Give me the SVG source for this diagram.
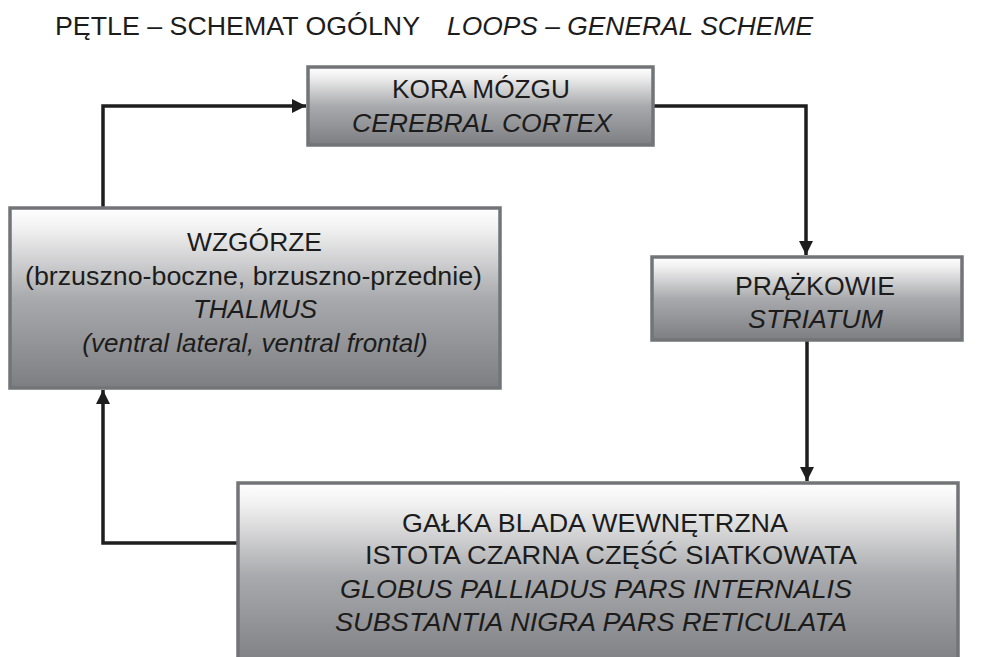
<svg xmlns="http://www.w3.org/2000/svg" width="988" height="657" viewBox="0 0 988 657">
<defs>
<linearGradient id="g" x1="0" y1="0" x2="0" y2="1">
<stop offset="0" stop-color="#ffffff"/>
<stop offset="0.12" stop-color="#f0f0f0"/>
<stop offset="0.5" stop-color="#a9aaad"/>
<stop offset="1" stop-color="#7d7e82"/>
</linearGradient>
<marker id="ah" viewBox="0 0 10 10" refX="10" refY="5" markerWidth="4" markerHeight="4" orient="auto" markerUnits="strokeWidth">
<path d="M0,0 L10,5 L0,10 Z" fill="#1e1e1e"/>
</marker>
<style>
.box{fill:url(#g);stroke:#737477;stroke-width:3.5}
text{font-family:"Liberation Sans",Arial,sans-serif;font-size:26px;fill:#1c1c1c}
.i{font-style:italic}
.conn{fill:none;stroke:#1e1e1e;stroke-width:3.5;marker-end:url(#ah)}
</style>
</defs>
<rect width="988" height="657" fill="#ffffff"/>
<g id="title">
<text x="55" y="35" textLength="365" lengthAdjust="spacingAndGlyphs">PĘTLE – SCHEMAT OGÓLNY</text>
<text x="447" y="35" class="i" textLength="366" lengthAdjust="spacingAndGlyphs">LOOPS – GENERAL SCHEME</text>
</g>
<g id="connectors">
<path class="conn" d="M103,208 V106 H306"/>
<path class="conn" d="M653,106 H806 V255"/>
<path class="conn" d="M807,340 V481"/>
<path class="conn" d="M238,543 H103 V390"/>
</g>
<g id="cortex">
<rect class="box" x="308" y="67" width="345" height="78"/>
<text x="392" y="98" textLength="178" lengthAdjust="spacingAndGlyphs">KORA MÓZGU</text>
<text x="352" y="132" class="i" textLength="260" lengthAdjust="spacingAndGlyphs">CEREBRAL CORTEX</text>
</g>
<g id="thalamus">
<rect class="box" x="10" y="208" width="490" height="180"/>
<text x="187" y="251" textLength="135" lengthAdjust="spacingAndGlyphs">WZGÓRZE</text>
<text x="25" y="285" textLength="457" lengthAdjust="spacingAndGlyphs">(brzuszno-boczne, brzuszno-przednie)</text>
<text x="255" y="318" class="i" text-anchor="middle">THALMUS</text>
<text x="255" y="352" class="i" text-anchor="middle">(ventral lateral, ventral frontal)</text>
</g>
<g id="striatum">
<rect class="box" x="652" y="257" width="310" height="83"/>
<text x="735" y="295" textLength="160" lengthAdjust="spacingAndGlyphs">PRĄŻKOWIE</text>
<text x="748" y="328" class="i" textLength="135" lengthAdjust="spacingAndGlyphs">STRIATUM</text>
</g>
<g id="gpi-snr">
<rect class="box" x="238" y="483" width="720" height="185"/>
<text x="402" y="532" textLength="386" lengthAdjust="spacingAndGlyphs">GAŁKA BLADA WEWNĘTRZNA</text>
<text x="365" y="564" textLength="492" lengthAdjust="spacingAndGlyphs">ISTOTA CZARNA CZĘŚĆ SIATKOWATA</text>
<text x="340" y="598" class="i" textLength="512" lengthAdjust="spacingAndGlyphs">GLOBUS PALLIADUS PARS INTERNALIS</text>
<text x="335" y="631" class="i" textLength="512" lengthAdjust="spacingAndGlyphs">SUBSTANTIA NIGRA PARS RETICULATA</text>
</g>
</svg>
